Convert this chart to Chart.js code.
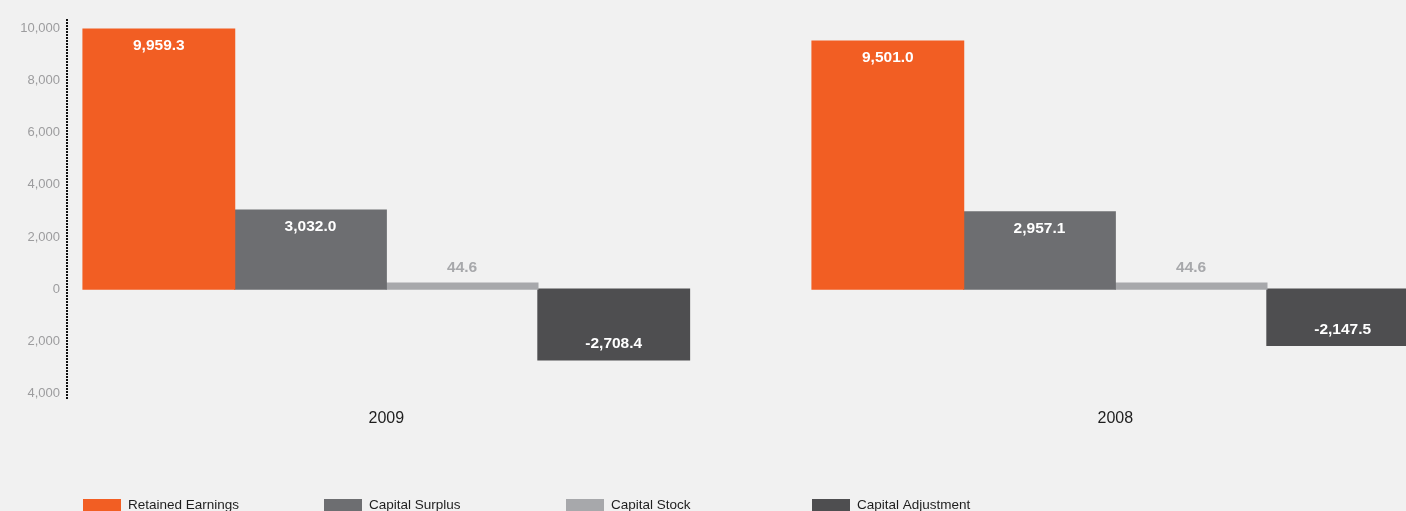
<!DOCTYPE html>
<html lang="en">
<head>
    <meta charset="UTF-8">
    <title>Capital Structure 2009 / 2008</title>
    <script src="https://cdn.jsdelivr.net/npm/chart.js"></script>
    <style>
        html, body { margin: 0; padding: 0; background: #f1f1f1; overflow: hidden; }
        #wrap { width: 1406px; height: 511px; position: relative; }
    </style>
</head>
<body>
    <div id="wrap">
        <canvas id="capital" width="1406" height="511"></canvas>
    </div>
<script>
    const years = ["2009", "2008"];
    const seriesNames = ["Retained Earnings", "Capital Surplus", "Capital Stock", "Capital Adjustment"];
    const retainedEarnings = [9959.3, 9501.0];
    const capitalSurplus = [3032.0, 2957.1];
    const capitalStock = [44.6, 44.6];
    const capitalAdjustment = [-2708.4, -2147.5];
    const yTicks = [-4000, -2000, 0, 2000, 4000, 6000, 8000, 10000];

    const colors = ["#f25e23", "#6d6e71", "#a7a8ab", "#4e4e50"];
    const allSeries = [retainedEarnings, capitalSurplus, capitalStock, capitalAdjustment];
    const FONT = "'Liberation Sans', Arial, Helvetica, sans-serif";

    const fmt = v => v.toLocaleString("en-US", { minimumFractionDigits: 1, maximumFractionDigits: 1 });

    // dotted vertical axis line, a bit longer than the plot area
    const dottedAxis = {
        id: "dottedAxis",
        afterDraw(chart) {
            const ctx = chart.ctx;
            const x = chart.chartArea.left;
            ctx.save();
            ctx.strokeStyle = "#111";
            ctx.lineWidth = 2;
            ctx.setLineDash([2, 1]);
            ctx.beginPath();
            ctx.moveTo(x - 1, chart.chartArea.top - 9);
            ctx.lineTo(x - 1, chart.chartArea.bottom + 6);
            ctx.stroke();
            ctx.restore();
        }
    };

    // value labels: inside the bar end, or above it when the bar is too thin
    const valueLabels = {
        id: "valueLabels",
        afterDatasetsDraw(chart) {
            const ctx = chart.ctx;
            ctx.save();
            ctx.font = "bold 15.5px " + FONT;
            ctx.textAlign = "center";
            ctx.textBaseline = "middle";
            chart.data.datasets.forEach((ds, di) => {
                const meta = chart.getDatasetMeta(di);
                meta.data.forEach((bar, i) => {
                    const v = ds.data[i].y;
                    const h = Math.abs(bar.base - bar.y);
                    let y;
                    if (h < 30) {
                        ctx.fillStyle = ds.backgroundColor;
                        y = Math.min(bar.y, bar.base) - 15;
                    } else {
                        ctx.fillStyle = "#ffffff";
                        y = v >= 0 ? bar.y + 17 : bar.y - 16;
                    }
                    ctx.fillText(fmt(v), bar.x, y);
                });
            });
            ctx.restore();
        }
    };

    // legend row along the bottom edge
    const bottomLegend = {
        id: "bottomLegend",
        afterDraw(chart) {
            const ctx = chart.ctx;
            const startX = [83, 324, 566, 812];
            ctx.save();
            ctx.font = "13.5px " + FONT;
            ctx.textBaseline = "middle";
            ctx.textAlign = "left";
            chart.data.datasets.forEach((ds, i) => {
                ctx.fillStyle = ds.backgroundColor;
                ctx.fillRect(startX[i], 499, 38, 14);
                ctx.fillStyle = "#1e1e1e";
                ctx.fillText(ds.label, startX[i] + 45, 505);
            });
            ctx.restore();
        }
    };

    const datasets = seriesNames.map((name, s) => ({
        label: name,
        data: years.map((_, j) => ({ x: j, y: allSeries[s][j] })),
        backgroundColor: colors[s],
        borderWidth: 0,
        inflateAmount: 0.6,
        minBarLength: s === 2 ? 6 : 0
    }));

    new Chart(document.getElementById("capital"), {
        type: "bar",
        data: { datasets: datasets },
        options: {
            responsive: false,
            animation: false,
            events: [],
            layout: { padding: { top: 28, right: 0, bottom: 0, left: 0 } },
            datasets: {
                bar: { categoryPercentage: 0.832, barPercentage: 1 }
            },
            plugins: {
                legend: { display: false },
                tooltip: { enabled: false }
            },
            scales: {
                x: {
                    type: "linear",
                    offset: false,
                    min: -0.4366,
                    max: 1.3988,
                    afterBuildTicks: scale => { scale.ticks = years.map((_, j) => ({ value: j })); },
                    afterFit: scale => { scale.height = 117.3; },
                    ticks: {
                        callback: v => years[v],
                        color: "#1e1e1e",
                        font: { family: FONT, size: 16 },
                        padding: 15,
                        maxRotation: 0
                    },
                    grid: { display: false, drawTicks: false },
                    border: { display: false }
                },
                y: {
                    min: -4000,
                    max: 10000,
                    afterBuildTicks: scale => { scale.ticks = yTicks.map(v => ({ value: v })); },
                    afterFit: scale => { scale.width = 68; },
                    ticks: {
                        callback: v => Math.abs(v).toLocaleString("en-US"),
                        color: "#9c9c9e",
                        font: { family: FONT, size: 13 },
                        padding: 8
                    },
                    grid: { display: false, drawTicks: false },
                    border: { display: false }
                }
            }
        },
        plugins: [dottedAxis, valueLabels, bottomLegend]
    });
</script>
</body>
</html>
